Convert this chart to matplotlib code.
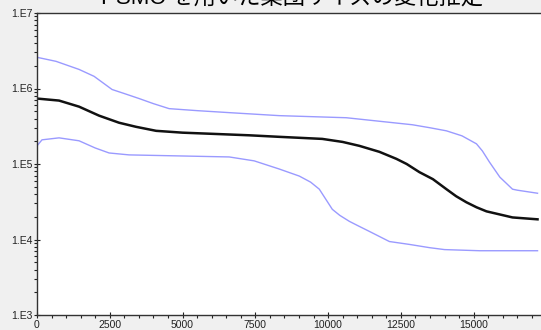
import matplotlib.pyplot as plt
from matplotlib.ticker import FixedLocator, LogLocator, NullFormatter

plt.rcParams['font.family'] = ['Liberation Sans', 'Noto Sans CJK JP', 'DejaVu Sans']

title = "PSMC を用いた集団サイズの変化推定"

# median (black)
med_x = [0, 757, 1444, 2132, 2820, 3400, 4092, 5000, 6018, 7290, 8322, 9800,
         10500, 11073, 11761, 12346, 12700, 13137, 13600, 14065, 14400, 14753,
         15100, 15441, 16335, 17195]
med_y = [7.36e5, 6.92e5, 5.75e5, 4.37e5, 3.52e5, 3.11e5, 2.75e5, 2.60e5, 2.51e5,
         2.40e5, 2.29e5, 2.15e5, 1.96e5, 1.74e5, 1.45e5, 1.17e5, 1.0e5, 7.8e4,
         6.3e4, 4.64e4, 3.74e4, 3.11e4, 2.67e4, 2.36e4, 1.96e4, 1.85e4]

# upper bound (blue)
up_x = [0, 653, 1444, 1960, 2201, 2579, 3000, 3508, 4000, 4539, 5500, 6603,
        8322, 10627, 12896, 13500, 14065, 14600, 15097, 15300, 15544, 15900,
        16335, 16500, 17195]
up_y = [2.59e6, 2.29e6, 1.79e6, 1.45e6, 1.24e6, 9.7e5, 8.57e5, 7.36e5, 6.3e5,
        5.41e5, 5.09e5, 4.79e5, 4.37e5, 4.10e5, 3.31e5, 3.02e5, 2.75e5, 2.36e5,
        1.85e5, 1.49e5, 1.06e5, 6.7e4, 4.64e4, 4.5e4, 4.10e4]

# lower bound (blue)
lo_x = [0, 172, 757, 1444, 2000, 2476, 3164, 6603, 7462, 8322, 9010, 9400,
        9698, 10145, 10400, 10730, 11000, 11418, 12106, 12800, 13481, 14000,
        15200, 17195]
lo_y = [1.74e5, 2.09e5, 2.22e5, 2.03e5, 1.63e5, 1.40e5, 1.32e5, 1.24e5, 1.10e5,
        8.58e4, 6.92e4, 5.75e4, 4.64e4, 2.51e4, 2.09e4, 1.74e4, 1.54e4, 1.28e4,
        9.4e3, 8.6e3, 7.8e3, 7.35e3, 7.1e3, 7.1e3]

x_ticks = [0, 2500, 5000, 7500, 10000, 12500, 15000]
y_ticks = [1e3, 1e4, 1e5, 1e6, 1e7]
y_labels = ["1.E3", "1.E4", "1.E5", "1.E6", "1.E7"]

fig = plt.figure(figsize=(5.41, 3.30), dpi=100, facecolor='#f0f0f0')
ax = fig.add_axes([37 / 541, 15 / 330, 1 - 37 / 541 + 0.01, 302 / 330])
ax.set_facecolor('white')

ax.plot(up_x, up_y, color='#9a9aff', lw=1.0)
ax.plot(lo_x, lo_y, color='#9a9aff', lw=1.0)
ax.plot(med_x, med_y, color='#111111', lw=1.8)

ax.set_yscale('log')
ax.set_ylim(1e3, 1e7)
ax.set_xlim(0, 17500)
ax.set_yticks(y_ticks)
ax.set_yticklabels(y_labels)
ax.yaxis.set_minor_locator(LogLocator(base=10, subs=range(2, 10)))
ax.yaxis.set_minor_formatter(NullFormatter())
ax.set_xticks(x_ticks)
ax.set_xticklabels([str(t) for t in x_ticks])
ax.xaxis.set_minor_locator(FixedLocator(range(0, 17500, 500)))

ax.tick_params(which='major', direction='inout', length=5, width=0.8,
               labelsize=7.5, colors='#222222', pad=1)
ax.tick_params(which='minor', direction='out', length=2.5, width=0.8, colors='#222222')
for s in ['left', 'bottom', 'top']:
    ax.spines[s].set_color('#333333')
    ax.spines[s].set_linewidth(1.0)
ax.spines['right'].set_visible(False)

fig.text(0.54, 1 - 10 / 330, title, ha='center', va='bottom', fontsize=16,
         color='black')

fig.savefig('out.png', dpi=100, facecolor=fig.get_facecolor())
